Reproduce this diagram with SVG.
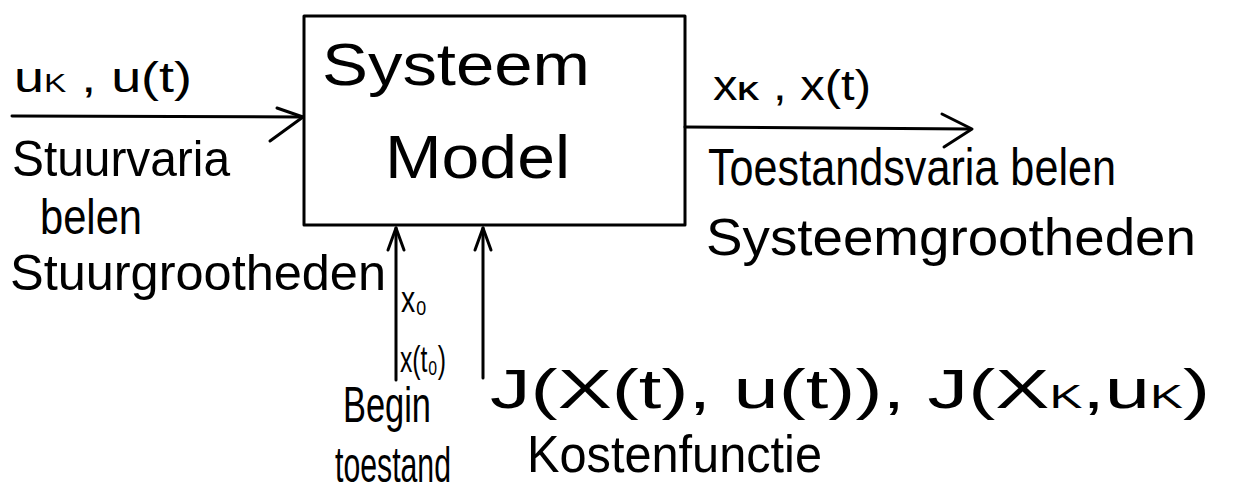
<svg xmlns="http://www.w3.org/2000/svg" width="1242" height="503" viewBox="0 0 1242 503">
<style>
.t{font-family:"Liberation Sans","DejaVu Sans",sans-serif;fill:#000;}
.ln{stroke:#000;stroke-width:3;fill:none;stroke-linecap:round;stroke-linejoin:round;}
</style>
<rect width="1242" height="503" fill="#fff"/>
<g id="system-model">
<rect x="304" y="16" width="381" height="209" class="ln"/>
<text class="t" x="322" y="85" font-size="60" textLength="268" lengthAdjust="spacingAndGlyphs">Systeem</text>
<text class="t" x="385" y="178" font-size="62" textLength="185" lengthAdjust="spacingAndGlyphs">Model</text>
</g>
<g id="input">
<text class="t" x="14" y="92" font-size="42" textLength="178" lengthAdjust="spacingAndGlyphs">u<tspan font-size="26">K</tspan> , u(t)</text>
<text class="t" x="12" y="176" font-size="50" textLength="218" lengthAdjust="spacingAndGlyphs">Stuurvaria</text>
<text class="t" x="40" y="234" font-size="50" textLength="102" lengthAdjust="spacingAndGlyphs">belen</text>
<text class="t" x="10" y="290" font-size="50" textLength="376" lengthAdjust="spacingAndGlyphs">Stuurgrootheden</text>
</g>
<g id="output">
<text class="t" x="713" y="100" font-size="42" textLength="158" lengthAdjust="spacingAndGlyphs">x<tspan font-size="26" font-weight="bold">K</tspan> , x(t)</text>
<text class="t" x="708" y="185" font-size="52" textLength="408" lengthAdjust="spacingAndGlyphs">Toestandsvaria belen</text>
<text class="t" x="706" y="255" font-size="52" textLength="490" lengthAdjust="spacingAndGlyphs">Systeemgrootheden</text>
</g>
<g id="initial-state">
<text class="t" x="401" y="312" font-size="36" textLength="26" lengthAdjust="spacingAndGlyphs">x₀</text>
<text class="t" x="400" y="372" font-size="36" textLength="46" lengthAdjust="spacingAndGlyphs">x(t₀)</text>
<text class="t" x="343" y="422" font-size="50" textLength="88" lengthAdjust="spacingAndGlyphs">Begin</text>
<text class="t" x="335" y="482" font-size="50" textLength="116" lengthAdjust="spacingAndGlyphs">toestand</text>
</g>
<g id="cost-function">
<text class="t" x="490" y="408" font-size="56" textLength="720" lengthAdjust="spacingAndGlyphs">J(X(t), u(t)), J(X<tspan font-size="34">K</tspan>,u<tspan font-size="34">K</tspan>)</text>
<text class="t" x="527" y="472" font-size="52" textLength="295" lengthAdjust="spacingAndGlyphs">Kostenfunctie</text>
</g>
<g id="connectors">
<path class="ln" d="M12 116 L303 117"/>
<path class="ln" d="M277 108 L303 117 L270 141"/>
<path class="ln" d="M685 127 L970 129"/>
<path class="ln" d="M942 114 L972 129 L944 147"/>
<path class="ln" d="M396 380 L396 228"/>
<path class="ln" d="M388 250 L396 228 L404 250"/>
<path class="ln" d="M483 378 L483 228"/>
<path class="ln" d="M475 250 L483 228 L491 250"/>
</g>
</svg>
